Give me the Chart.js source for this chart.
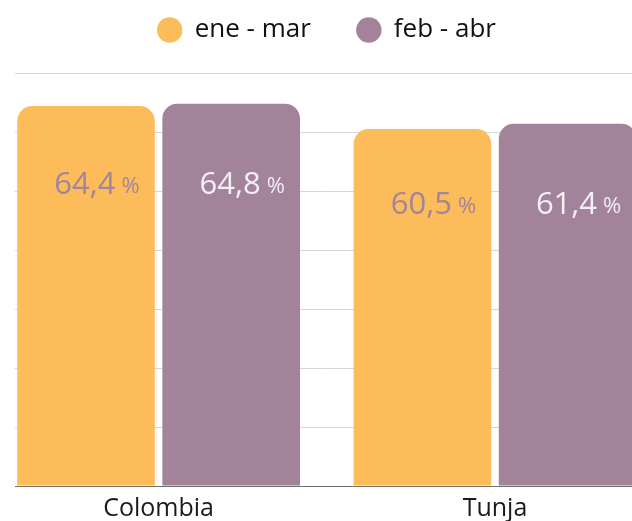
<!DOCTYPE html>
<html lang="es">
<head>
<meta charset="utf-8">
<script src="https://cdn.jsdelivr.net/npm/chart.js@4.4.1/dist/chart.umd.min.js"></script>
<style>
  html, body { margin: 0; padding: 0; background: #fff; }
  body { width: 632px; height: 521px; overflow: hidden; position: relative; }
  #clip { position: absolute; left: 15px; top: 0; width: 617px; height: 521px; overflow: hidden; }
  #wrap { position: absolute; left: -45px; top: -29px; width: 710px; height: 561px; }
</style>
</head>
<body>
<div id="clip"><div id="wrap"><canvas id="chart"></canvas></div></div>
<script>
const categories = ['Colombia', 'Tunja'];
const seriesNames = ['ene - mar', 'feb - abr'];
const eneMar = [64.4, 60.5];
const febAbr = [64.8, 61.4];
const yTicks = [0, 10, 20, 30, 40, 50, 60, 70];

const barColors = ['#fdbc5a', '#a2839a'];
const labelColors = ['#a2849c', '#f3eff3'];

// keeps some room between the legend and the bars
const legendMargin = {
    id: 'legendMargin',
    beforeInit(chart) {
        const fitLegend = chart.legend.fit;
        chart.legend.fit = function fit() {
            fitLegend.bind(chart.legend)();
            this.height += 20;
        };
    }
};

// value labels inside the bars, "64,4 %"
const barLabels = {
    id: 'barLabels',
    afterDatasetsDraw(chart) {
        const ctx = chart.ctx;
        const metas = chart.data.datasets.map((d, i) => chart.getDatasetMeta(i));
        ctx.save();
        ctx.textAlign = 'left';
        ctx.textBaseline = 'alphabetic';
        metas.forEach((meta, di) => {
            meta.data.forEach((bar, i) => {
                const top = Math.min(...metas.map(m => m.data[i].y));
                const num = chart.data.datasets[di].data[i].toFixed(1).replace('.', ',');
                ctx.font = '31px "Open Sans"';
                const wNum = ctx.measureText(num).width;
                ctx.font = '22px "Open Sans"';
                const wPct = ctx.measureText('%').width;
                const gap = 6;
                const x = bar.x + 11 - (wNum + gap + wPct) / 2;
                const y = top + 90;
                ctx.fillStyle = labelColors[di];
                ctx.font = '31px "Open Sans"';
                ctx.fillText(num, x, y);
                ctx.font = '22px "Open Sans"';
                ctx.fillText('%', x + wNum + gap, y - 1);
            });
        });
        ctx.restore();
    }
};

const ctx = document.getElementById('chart').getContext('2d');
const chart = new Chart(ctx, {
    type: 'bar',
    data: {
        labels: categories,
        datasets: [{
            label: seriesNames[0],
            data: eneMar,
            backgroundColor: barColors[0],
        }, {
            label: seriesNames[1],
            data: febAbr,
            backgroundColor: barColors[1],
        }]
    },
    options: {
        responsive: true,
        maintainAspectRatio: false,
        animation: false,
        categoryPercentage: 0.863,
        barPercentage: 0.948,
        borderRadius: 15,
        borderSkipped: 'start',
        layout: {
            padding: { left: 20.4, right: 16.8, top: 0, bottom: 0 }
        },
        scales: {
            x: {
                grid: { display: false, drawTicks: false },
                border: { display: true, color: '#6f6f6f', width: 1 },
                ticks: {
                    color: '#1a1a1a',
                    padding: 8,
                    font: { family: 'Open Sans', size: 25 }
                }
            },
            y: {
                min: yTicks[0],
                max: yTicks[yTicks.length - 1],
                ticks: { display: false, stepSize: yTicks[1] - yTicks[0] },
                border: { display: false },
                grid: { color: '#d6d6d6', drawTicks: false }
            }
        },
        plugins: {
            legend: {
                position: 'top',
                labels: {
                    usePointStyle: true,
                    pointStyle: 'circle',
                    boxWidth: 24,
                    boxHeight: 18,
                    padding: 46,
                    color: '#111',
                    font: { family: 'Open Sans', size: 26 }
                }
            },
            tooltip: { enabled: false }
        }
    },
    plugins: [legendMargin, barLabels]
});
</script>
</body>
</html>
